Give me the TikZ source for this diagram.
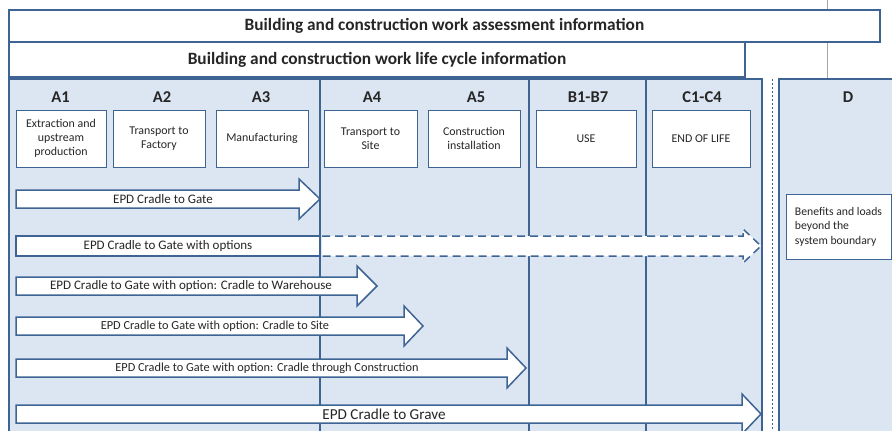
\documentclass[tikz,border=0pt]{standalone}
\usepackage{fontspec}
\setmainfont{Carlito}
\definecolor{frame}{HTML}{3E6494}
\definecolor{panel}{HTML}{DCE6F2}
\definecolor{ink}{HTML}{262626}
\definecolor{rule}{HTML}{A6A6A6}
\begin{document}
\begin{tikzpicture}[x=1pt,y=-1pt,
  every node/.style={text=ink, inner sep=0pt},
  titlebox/.style={draw=frame, line width=1.6pt, fill=white, font=\bfseries\fontsize{17.3}{20}\selectfont},
  phase/.style={font=\bfseries\fontsize{16.5}{19}\selectfont},
  stagebox/.style={draw=frame, line width=1pt, fill=white, align=center, minimum height=57pt, font=\fontsize{11.9}{14}\selectfont},
  panelbox/.style={draw=frame, line width=1.6pt, fill=panel},
  divider/.style={draw=frame, line width=1.6pt},
  blockarrow/.style={draw=frame, line width=1.5pt, fill=white, line join=miter},
  dashedarrow/.style={blockarrow, dash pattern=on 8pt off 5pt},
  arrowtext/.style={font=\fontsize{13}{15}\selectfont},
  smallarrowtext/.style={font=\fontsize{12.3}{14}\selectfont},
  bigarrowtext/.style={font=\fontsize{15.2}{17}\selectfont}]
\useasboundingbox (0,0) rectangle (892,431);
\clip (0,0) rectangle (892,431);

% grey rule above the D module
\draw[rule, line width=0.8pt] (827,0) -- (827,79);

% module panels
\draw[panelbox] (9,79) rectangle (762,450);
\draw[panelbox] (779,79) rectangle (900,450);

% headline bars
\node[titlebox, minimum width=871pt, minimum height=32pt] (assess) at (444.5,26) {Building and construction work assessment information};
\node[titlebox, minimum width=736pt, minimum height=35pt] (lifecycle) at (377,59.5) {Building and construction work life cycle information};

% module dividers, lying under the arrows
\draw[divider] (320,79) -- (320,450);
\draw[divider] (529,79) -- (529,450);
\draw[divider] (646,79) -- (646,450);

% system boundary
\draw[frame, line width=1pt, dash pattern=on 2pt off 2pt] (772,79) -- (772,450);

% module labels
\node[phase] (hA1) at (60.5,97) {A1};
\node[phase] (hA2) at (162,97) {A2};
\node[phase] (hA3) at (261,97) {A3};
\node[phase] (hA4) at (372,97) {A4};
\node[phase] (hA5) at (476,97) {A5};
\node[phase] (hB) at (588,97) {B1-B7};
\node[phase] (hC) at (702,97) {C1-C4};
\node[phase] (hD) at (848,97) {D};

% stage boxes
\node[stagebox, minimum width=90pt] (sA1) at (61,138.5) {Extraction and\\upstream\\production};
\node[stagebox, minimum width=92pt] (sA2) at (159,138.5) {Transport to\\Factory};
\node[stagebox, minimum width=92pt] (sA3) at (262,138.5) {Manufacturing};
\node[stagebox, minimum width=93pt] (sA4) at (370.5,138.5) {Transport to\\Site};
\node[stagebox, minimum width=92pt] (sA5) at (474,138.5) {Construction\\installation};
\node[stagebox, minimum width=100pt] (sB) at (586,138.5) {USE};
\node[stagebox, minimum width=98pt] (sC) at (701,138.5) {END OF LIFE};
\node[stagebox, align=left, minimum width=105pt, minimum height=65pt, font=\fontsize{11.7}{14.5}\selectfont] (sD) at (838.5,226.5) {Benefits and loads\\beyond the\\system boundary};

% EPD scope arrows
\path[blockarrow] (16,190) -- (299,190) -- (299,179) -- (320,199) -- (299,219) -- (299,208) -- (16,208) -- cycle;
\node[arrowtext] (gate) at (163,199) {EPD Cradle to Gate};

\path[dashedarrow] (322,236) -- (743,236) -- (743,229) -- (761,246) -- (743,263) -- (743,256) -- (322,256);
\path[blockarrow] (16,236) rectangle (320,256);
\node[arrowtext] (options) at (168,246) {EPD Cradle to Gate with options};

\path[blockarrow] (16,277) -- (357,277) -- (357,266) -- (377,286) -- (357,306) -- (357,295) -- (16,295) -- cycle;
\node[arrowtext] (warehouse) at (191,286) {EPD Cradle to Gate with option: Cradle to Warehouse};

\path[blockarrow] (16,317) -- (404,317) -- (404,306) -- (423,326) -- (404,346) -- (404,335) -- (16,335) -- cycle;
\node[smallarrowtext] (site) at (215,326) {EPD Cradle to Gate with option: Cradle to Site};

\path[blockarrow] (16,359) -- (507,359) -- (507,348) -- (526,368) -- (507,388) -- (507,377) -- (16,377) -- cycle;
\node[smallarrowtext] (construction) at (267,368) {EPD Cradle to Gate with option: Cradle through Construction};

\path[blockarrow] (16,405) -- (742,405) -- (742,394) -- (761,414) -- (742,434) -- (742,423) -- (16,423) -- cycle;
\node[bigarrowtext] (grave) at (384,414) {EPD Cradle to Grave};
\end{tikzpicture}
\end{document}
